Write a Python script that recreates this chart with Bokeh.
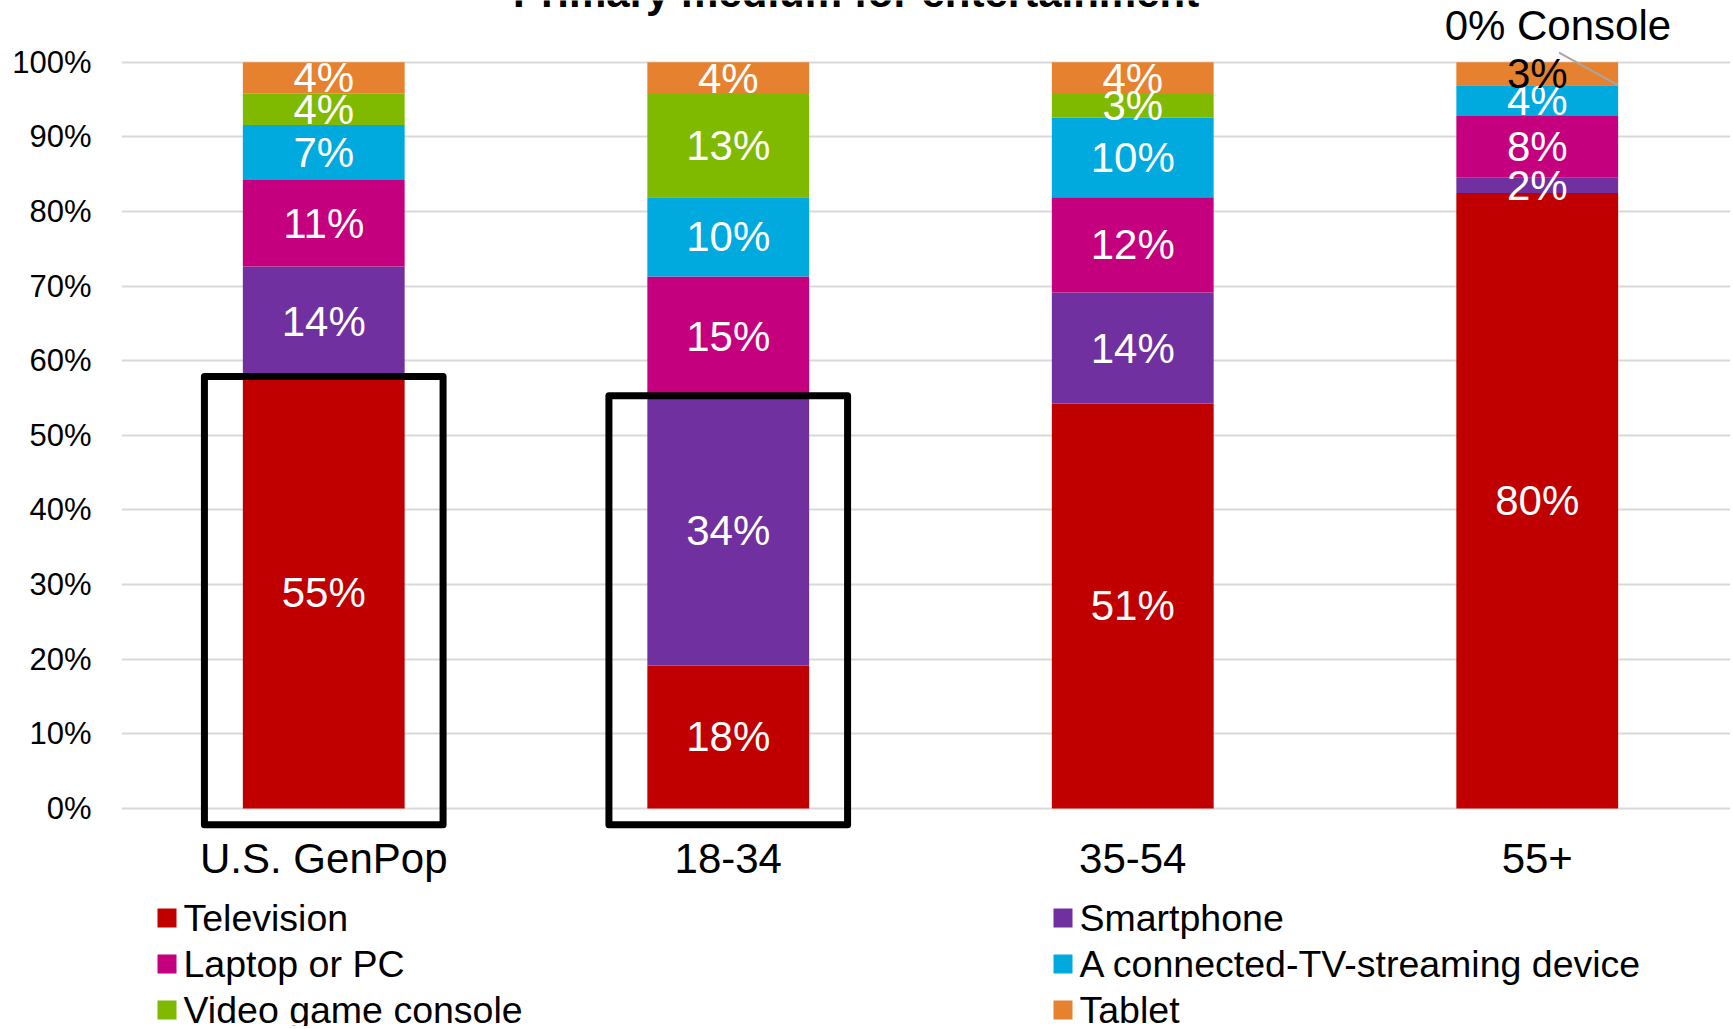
from bokeh.plotting import figure
from bokeh.layouts import column
from bokeh.models import (Range1d, FixedTicker, NumeralTickFormatter, ColumnDataSource)
from bokeh.core.properties import value
from bokeh.embed import file_html
from bokeh.resources import INLINE

# ---------------- data ----------------
title_text = "Primary medium for entertainment"
groups = ["U.S. GenPop", "18-34", "35-54", "55+"]
series_names = ["Television", "Smartphone", "Laptop or PC",
                "A connected-TV-streaming device", "Video game console", "Tablet"]
television = [55, 18, 51, 80]
smartphone = [14, 34, 14, 2]
laptop_pc = [11, 15, 12, 8]
streaming = [7, 10, 10, 4]
console = [4, 13, 3, 0]
tablet = [4, 4, 4, 3]
colors = ["#C00000", "#7030A0", "#C5007E", "#00AADF", "#7FBA00", "#E6822F"]
y_ticks = [0.0, 0.1, 0.2, 0.3, 0.4, 0.5, 0.6, 0.7, 0.8, 0.9, 1.0]
# highlighted boxes: (group index, number of bottom series enclosed)
highlights = [(0, 1), (1, 2)]
# callout for the zero-valued console segment of 55+
callout_group = 3
callout_series = 4
callout_word = "Console"
dark_labels = [(3, 5)]  # (group, series) labels drawn in black

FONT = "Liberation Sans"

# ---------------- derived (100% stacked) ----------------
values = [television, smartphone, laptop_pc, streaming, console, tablet]
keys = ["tv", "phone", "pc", "stream", "console", "tablet"]
n = len(groups)
totals = [sum(v[i] for v in values) for i in range(n)]
xs = list(range(n))
data = {"x": xs}
for k, v in zip(keys, values):
    data[k] = [v[i] / totals[i] for i in range(n)]
source = ColumnDataSource(data)

lab_x, lab_y, lab_t, lab_c = [], [], [], []
cum = [[0.0] * (len(values) + 1) for _ in range(n)]
for i in range(n):
    c = 0.0
    for j, v in enumerate(values):
        f = v[i] / totals[i]
        cum[i][j] = c
        if v[i] > 0:
            lab_x.append(xs[i])
            lab_y.append(c + f / 2)
            lab_t.append(f"{v[i]}%")
            lab_c.append("black" if (i, j) in dark_labels else "white")
        c += f
    cum[i][len(values)] = c
labels = ColumnDataSource(dict(x=lab_x, y=lab_y, text=lab_t, color=lab_c))

# ---------------- main chart ----------------
BAR_W = 0.4
W = 1730
H_MAIN, H_LEG = 890, 136
LEFT = 121
UNIT = 404.5
FRAME_BOTTOM = 834
p = figure(width=W, height=H_MAIN,
           x_range=Range1d(-0.5, -0.5 + (W - LEFT) / UNIT),
           y_range=Range1d(-0.035, 1.0828),
           output_backend="svg", toolbar_location=None,
           min_border_left=LEFT, min_border_right=0, min_border_top=0,
           min_border_bottom=H_MAIN - FRAME_BOTTOM)
p.outline_line_color = None

renderers = p.vbar_stack(keys, x="x", width=BAR_W, color=colors, source=source,
                         line_color=None)

# bar labels
p.text(x="x", y="y", text="text", source=labels, text_color="color",
       text_align="center", text_baseline="middle",
       text_font=value(FONT), text_font_size=value("42px"))

# highlight boxes
bx, by, bh = [], [], []
bottom = -0.022
for gi, ns in highlights:
    top = cum[gi][ns]
    bx.append(xs[gi])
    by.append((top + bottom) / 2)
    bh.append(top - bottom)
p.rect(x=bx, y=by, width=0.59, height=bh, fill_color=None, line_color="black",
       line_width=7, line_join="round")

# callout for zero-valued segment
cg = callout_group
p.segment(x0=[xs[cg] + 0.054], y0=[1.013],
          x1=[xs[cg] + BAR_W / 2], y1=[cum[cg][callout_series]],
          line_color="#A6A6A6", line_width=2)
p.text(x=[xs[cg] + 0.051], y=[1.049],
       text=[f"{values[callout_series][cg]}% {callout_word}"],
       text_align="center", text_baseline="middle", text_color="black",
       text_font=value(FONT), text_font_size=value("42px"))

# title (cut off at top as in the reference)
p.text(x=[1.316], y=[1.0935], text=[title_text], text_align="center",
       text_baseline="alphabetic", text_color="black", text_font_style="bold",
       text_font=value(FONT), text_font_size=value("42px"))

# axes
p.yaxis.ticker = FixedTicker(ticks=y_ticks)
p.yaxis.formatter = NumeralTickFormatter(format="0%")
p.yaxis.axis_line_color = None
p.yaxis.major_tick_line_color = None
p.yaxis.minor_tick_line_color = None
p.yaxis.major_tick_out = 0
p.yaxis.major_label_standoff = 30
p.yaxis.major_label_text_font = FONT
p.yaxis.major_label_text_font_size = "31px"
p.yaxis.major_label_text_color = "black"

p.xaxis.ticker = FixedTicker(ticks=xs)
p.xaxis.major_label_overrides = {i: g for i, g in zip(xs, groups)}
p.xaxis.axis_line_color = None
p.xaxis.major_tick_line_color = None
p.xaxis.minor_tick_line_color = None
p.xaxis.major_tick_out = 0
p.xaxis.major_label_standoff = 0
p.xaxis.major_label_text_font = FONT
p.xaxis.major_label_text_font_size = "42px"
p.xaxis.major_label_text_color = "black"

p.xgrid.grid_line_color = None
p.ygrid.ticker = FixedTicker(ticks=y_ticks)
p.ygrid.grid_line_color = "#D9D9D9"
p.ygrid.grid_line_width = 2

# ---------------- legend strip (two columns, row-major) ----------------
# frame of this strip is aligned with the main chart's frame, so x runs in page px from LEFT
leg = figure(width=W, height=H_LEG, x_range=Range1d(LEFT, W), y_range=Range1d(H_LEG, 0),
             output_backend="svg", toolbar_location=None,
             x_axis_type=None, y_axis_type=None,
             min_border_left=LEFT, min_border_right=0, min_border_top=0, min_border_bottom=0)
leg.outline_line_color = None
leg.xgrid.grid_line_color = None
leg.ygrid.grid_line_color = None

COL_X = [166.5, 1062.5]   # square centres of the two legend columns (px)
ROW_Y0, ROW_STEP = 27.5, 46
lx, ly = [], []
for k in range(len(series_names)):
    lx.append(COL_X[k % 2])
    ly.append(ROW_Y0 + ROW_STEP * (k // 2))
leg_src = ColumnDataSource(dict(x=lx, y=ly, tx=[x + 16.5 for x in lx],
                                name=series_names, color=colors))
leg.scatter(x="x", y="y", marker="square", size=19, fill_color="color",
            line_color=None, source=leg_src)
leg.text(x="tx", y="y", text="name", source=leg_src, text_align="left",
         text_baseline="middle", text_color="black",
         text_font=value(FONT), text_font_size=value("37.5px"))

layout = column(p, leg, spacing=0)
open("out.html", "w").write(file_html(layout, INLINE))
